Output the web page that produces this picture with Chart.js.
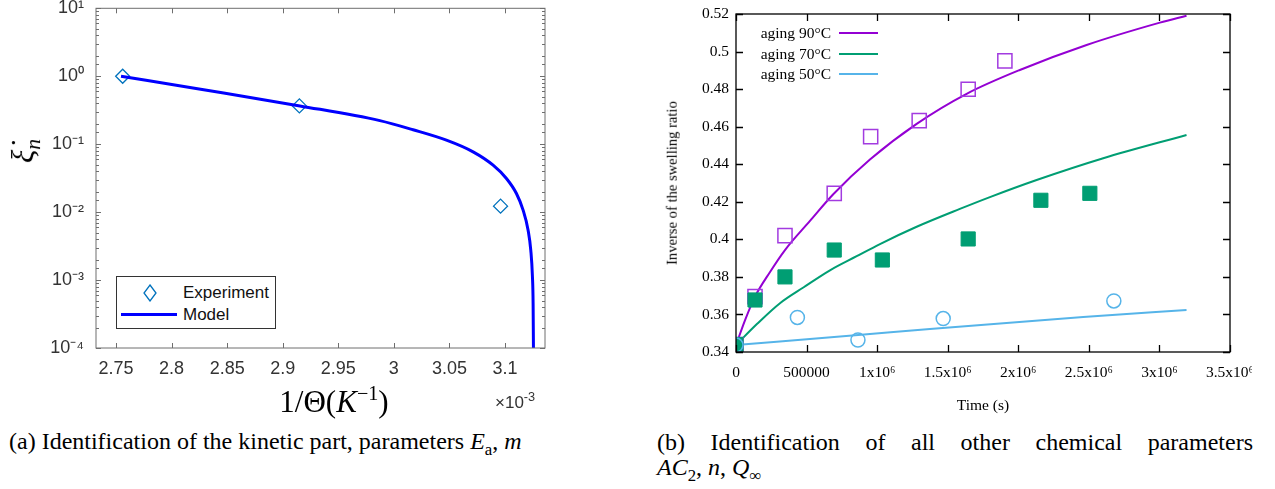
<!DOCTYPE html>
<html>
<head>
<meta charset="utf-8">
<script src="https://cdn.jsdelivr.net/npm/chart.js@4.4.0/dist/chart.umd.min.js"></script>
<style>
  body { margin: 0; width: 1275px; height: 489px; background: #fff; position: relative; overflow: hidden; }
  .wrap { position: absolute; }
  .txt { position: absolute; white-space: nowrap; line-height: 1; }
  .serif { font-family: "Liberation Serif", "DejaVu Serif", serif; }
  .sans { font-family: "Liberation Sans", Arial, sans-serif; }
  .rot { transform: translate(-50%, -50%) rotate(-90deg); }
  .ctr { transform: translate(-50%, -50%); }
  .midl { transform: translateY(-50%); }
  .midr { transform: translate(-100%, -50%); }
  .swatch { position: absolute; height: 0; }
  .cap { font-size: 24px; line-height: 25px; }
</style>
</head>
<body>

<!-- (a) kinetic part -->
<div class="wrap" style="left:0; top:0; width:600px; height:420px;"><canvas id="chartA"></canvas></div>
<div class="txt serif rot" style="left:26px; top:151px; font-size:31px; font-style:italic;">ξ̇<sub style="font-size:0.7em;">n</sub></div>
<div class="txt serif ctr" style="left:334px; top:400px; font-size:31px;">1/Θ(<i>K</i><sup style="font-size:0.65em;">−1</sup>)</div>
<div class="txt sans midl" style="left:495px; top:401px; font-size:17px; color:#333;">×10<sup style="font-size:0.75em;">-3</sup></div>
<div style="position:absolute; left:116px; top:276px; width:158px; height:51px; border:1px solid #333; background:#fff;"></div>
<svg style="position:absolute; left:142px; top:284px;" width="16" height="18"><polygon points="8,1 14,9 8,17 2,9" fill="none" stroke="#0072BD" stroke-width="1.3"/></svg>
<div class="txt sans midl" style="left:183px; top:292px; font-size:17px; color:#111;">Experiment</div>
<div class="swatch" style="left:121px; top:313px; width:56px; border-top:3px solid #0000FF;"></div>
<div class="txt sans midl" style="left:183px; top:314px; font-size:17px; color:#111;">Model</div>
<div class="txt serif cap" style="left:9px; top:429px;">(a) Identification of the kinetic part, parameters <i>E</i><sub style="font-size:0.7em;">a</sub>, <i>m</i></div>

<!-- (b) chemical parameters -->
<div class="wrap" style="left:640px; top:0; width:612px; height:420px;"><canvas id="chartB"></canvas></div>
<div class="txt serif rot" style="left:672px; top:183px; font-size:14.6px;">Inverse of the swelling ratio</div>
<div class="txt serif ctr" style="left:983px; top:405px; font-size:15.5px;">Time (s)</div>
<div class="txt serif midr" style="left:831px; top:33px; font-size:15.5px;">aging 90°C</div>
<div class="swatch" style="left:839px; top:32px; width:39px; border-top:2px solid #9400D3;"></div>
<div class="txt serif midr" style="left:831px; top:53.5px; font-size:15.5px;">aging 70°C</div>
<div class="swatch" style="left:839px; top:52.5px; width:39px; border-top:2px solid #009E73;"></div>
<div class="txt serif midr" style="left:831px; top:74px; font-size:15.5px;">aging 50°C</div>
<div class="swatch" style="left:839px; top:73px; width:39px; border-top:2px solid #56B4E9;"></div>
<div class="serif cap" style="position:absolute; left:657px; top:430px; width:596px; text-align:justify; text-align-last:justify;">(b) Identification of all other chemical parameters</div>
<div class="txt serif cap" style="left:657px; top:455px;"><i>AC</i><sub style="font-size:0.7em;">2</sub>, <i>n</i>, <i>Q</i><sub style="font-size:0.7em;">∞</sub></div>

<script>
// ---- (a) Arrhenius plot, x in units of 1e-3 K^-1
const invT = [2.756, 2.915, 3.096];
const xiExp = [1.0, 0.366, 0.01225];
const modelInvT = [2.7545, 2.822, 2.9155, 2.9874, 3.0173, 3.0473, 3.0713, 3.0893, 3.1013, 3.1103, 3.1163, 3.1208, 3.1232, 3.1247, 3.1253, 3.1256];
const modelXi = [1.0, 0.659, 0.366, 0.222, 0.163, 0.1146, 0.0771, 0.0491, 0.0313, 0.0188, 0.0107, 0.00543, 0.00276, 0.00112, 0.000454, 0.0001];
const xTicksA = [2.75, 2.8, 2.85, 2.9, 2.95, 3, 3.05, 3.1];
const xLabelsA = ['2.75', '2.8', '2.85', '2.9', '2.95', '3', '3.05', '3.1'];
const yDecadesA = [1e-4, 1e-3, 1e-2, 1e-1, 1, 10];
const yLabelsA = ['10⁻⁴', '10⁻³', '10⁻²', '10⁻¹', '10⁰', '10¹'];

// ---- (b) swelling ratio vs time
const t90 = [0, 134600, 347000, 696000, 954000, 1298000, 1645000, 1905000];
const r90 = [0.344, 0.3695, 0.402, 0.4245, 0.4547, 0.4632, 0.4799, 0.495];
const t70 = [0, 134600, 347000, 696000, 1037000, 1645000, 2160000, 2507000];
const r70 = [0.344, 0.3677, 0.380, 0.3943, 0.389, 0.4002, 0.4208, 0.4245];
const t50 = [0, 435000, 864000, 1468000, 2677000];
const r50 = [0.3437, 0.3584, 0.3464, 0.3578, 0.3672];
const fit90T = [0, 67000, 134600, 240000, 347000, 524000, 689000, 949000, 1280000, 1634000, 2011000, 2484000, 3003000, 3192000];
const fit90R = [0.3437, 0.3575, 0.3695, 0.3825, 0.3943, 0.4098, 0.4240, 0.4425, 0.4615, 0.4775, 0.4902, 0.5035, 0.5154, 0.5191];
const fit70T = [0, 150000, 311600, 480000, 665700, 855000, 1020000, 1280000, 1586000, 1799000, 2130000, 2602000, 3192000];
const fit70R = [0.3437, 0.3550, 0.366, 0.3745, 0.3835, 0.391, 0.3975, 0.4067, 0.4162, 0.4225, 0.4316, 0.4432, 0.4556];
const fit50T = [0, 866000, 1374000, 2460000, 3192000];
const fit50R = [0.3437, 0.349, 0.3523, 0.3586, 0.3624];
const xTicksB = [0, 500000, 1000000, 1500000, 2000000, 2500000, 3000000, 3500000];
const xLabelsB = ['0', '500000', '1x10⁶', '1.5x10⁶', '2x10⁶', '2.5x10⁶', '3x10⁶', '3.5x10⁶'];
const yTicksB = [0.34, 0.36, 0.38, 0.4, 0.42, 0.44, 0.46, 0.48, 0.5, 0.52];
const yLabelsB = ['0.34', '0.36', '0.38', '0.4', '0.42', '0.44', '0.46', '0.48', '0.5', '0.52'];

function pts(xs, ys) {
    return xs.map(function(x, i) { return {x: x, y: ys[i]}; });
}

// frame + inward ticks on all four sides (MATLAB / gnuplot look)
const boxTicks = {
    id: 'boxTicks',
    afterDatasetsDraw: function(chart, args, o) {
        var ctx = chart.ctx, a = chart.chartArea, x = chart.scales.x, y = chart.scales.y;
        ctx.save();
        ctx.strokeStyle = o.color;
        ctx.lineWidth = o.width;
        ctx.beginPath();
        x.ticks.forEach(function(t) {
            var px = Math.round(x.getPixelForValue(t.value)) + 0.5;
            ctx.moveTo(px, a.bottom); ctx.lineTo(px, a.bottom - o.len);
            ctx.moveTo(px, a.top); ctx.lineTo(px, a.top + o.len);
        });
        y.ticks.forEach(function(t) {
            var py = Math.round(y.getPixelForValue(t.value)) + 0.5;
            var len = o.len;
            if (o.log) {
                var l = Math.log10(t.value);
                if (Math.abs(l - Math.round(l)) > 1e-6) len = o.minorLen;
            }
            ctx.moveTo(a.left, py); ctx.lineTo(a.left + len, py);
            ctx.moveTo(a.right, py); ctx.lineTo(a.right - len, py);
        });
        ctx.stroke();
        ctx.strokeRect(a.left, a.top, a.right - a.left, a.bottom - a.top);
        ctx.restore();
    }
};

new Chart(document.getElementById('chartA'), {
    type: 'scatter',
    data: {
        datasets: [
            {
                label: 'Model',
                data: pts(modelInvT, modelXi),
                showLine: true,
                borderColor: '#0000FF',
                borderWidth: 3,
                pointRadius: 0,
                cubicInterpolationMode: 'monotone'
            },
            {
                label: 'Experiment',
                data: pts(invT, xiExp),
                pointStyle: 'rectRot',
                pointRadius: 7,
                pointBorderWidth: 1.3,
                pointBorderColor: '#0072BD',
                pointBackgroundColor: 'rgba(0,0,0,0)'
            }
        ]
    },
    options: {
        responsive: true,
        maintainAspectRatio: false,
        animation: false,
        layout: { padding: { left: 0, top: 8, right: 55, bottom: 0 } },
        plugins: {
            legend: { display: false },
            tooltip: { enabled: false },
            boxTicks: { color: '#6e6e6e', width: 1, len: 5, minorLen: 3, log: true }
        },
        scales: {
            x: {
                type: 'linear', min: 2.732, max: 3.136,
                grid: { display: false, drawTicks: false },
                border: { display: false },
                afterBuildTicks: function(s) { s.ticks = xTicksA.map(function(v) { return {value: v}; }); },
                afterFit: function(s) { s.height = 72; s.paddingLeft = 0; s.paddingRight = 0; },
                ticks: {
                    autoSkip: false, maxRotation: 0, padding: 10, color: '#333',
                    font: { family: 'Liberation Sans', size: 18 },
                    callback: function(v, i) { return xLabelsA[i]; }
                }
            },
            y: {
                type: 'logarithmic', min: 1e-4, max: 10,
                grid: { display: false, drawTicks: false },
                border: { display: false },
                afterFit: function(s) { s.width = 96; s.paddingTop = 0; s.paddingBottom = 0; },
                ticks: {
                    autoSkip: false, padding: 12, color: '#333',
                    font: { family: 'Liberation Sans', size: 18 },
                    callback: function(v) {
                        for (var i = 0; i < yDecadesA.length; i++) {
                            if (Math.abs(v / yDecadesA[i] - 1) < 1e-6) return yLabelsA[i];
                        }
                        return '';
                    }
                }
            }
        }
    },
    plugins: [boxTicks]
});

new Chart(document.getElementById('chartB'), {
    type: 'scatter',
    data: {
        datasets: [
            {
                label: 'exp 50',
                data: pts(t50, r50),
                pointStyle: 'circle', pointRadius: 7, pointBorderWidth: 1.5,
                pointBorderColor: '#56B4E9', pointBackgroundColor: 'rgba(0,0,0,0)'
            },
            {
                label: 'exp 70',
                data: pts(t70, r70),
                pointStyle: 'rect', pointRadius: 10, pointBorderWidth: 1,
                pointBorderColor: '#009E73', pointBackgroundColor: '#009E73'
            },
            {
                label: 'exp 90',
                data: pts(t90, r90),
                pointStyle: 'rect', pointRadius: 10, pointBorderWidth: 1.5,
                pointBorderColor: '#A23BE0', pointBackgroundColor: 'rgba(0,0,0,0)'
            },
            {
                label: 'aging 90°C',
                data: pts(fit90T, fit90R),
                showLine: true, borderColor: '#9400D3', borderWidth: 2,
                pointRadius: 0, cubicInterpolationMode: 'monotone'
            },
            {
                label: 'aging 70°C',
                data: pts(fit70T, fit70R),
                showLine: true, borderColor: '#009E73', borderWidth: 2,
                pointRadius: 0, cubicInterpolationMode: 'monotone'
            },
            {
                label: 'aging 50°C',
                data: pts(fit50T, fit50R),
                showLine: true, borderColor: '#56B4E9', borderWidth: 2,
                pointRadius: 0, cubicInterpolationMode: 'monotone'
            }
        ]
    },
    options: {
        responsive: true,
        maintainAspectRatio: false,
        animation: false,
        layout: { padding: { left: 0, top: 14, right: 22, bottom: 0 } },
        plugins: {
            legend: { display: false },
            tooltip: { enabled: false },
            boxTicks: { color: '#000', width: 1.3, len: 7, log: false }
        },
        scales: {
            x: {
                type: 'linear', min: 0, max: 3500000,
                grid: { display: false, drawTicks: false },
                border: { display: false },
                afterBuildTicks: function(s) { s.ticks = xTicksB.map(function(v) { return {value: v}; }); },
                afterFit: function(s) { s.height = 68; s.paddingLeft = 0; s.paddingRight = 0; },
                ticks: {
                    autoSkip: false, maxRotation: 0, padding: 12, color: '#000',
                    font: { family: 'Liberation Serif', size: 15.5 },
                    callback: function(v, i) { return xLabelsB[i]; }
                }
            },
            y: {
                type: 'linear', min: 0.34, max: 0.52,
                grid: { display: false, drawTicks: false },
                border: { display: false },
                afterBuildTicks: function(s) { s.ticks = yTicksB.map(function(v) { return {value: v}; }); },
                afterFit: function(s) { s.width = 96; s.paddingTop = 0; s.paddingBottom = 0; },
                ticks: {
                    autoSkip: false, padding: 7, color: '#000',
                    font: { family: 'Liberation Serif', size: 15.5 },
                    callback: function(v, i) { return yLabelsB[i]; }
                }
            }
        }
    },
    plugins: [boxTicks]
});
</script>
</body>
</html>
